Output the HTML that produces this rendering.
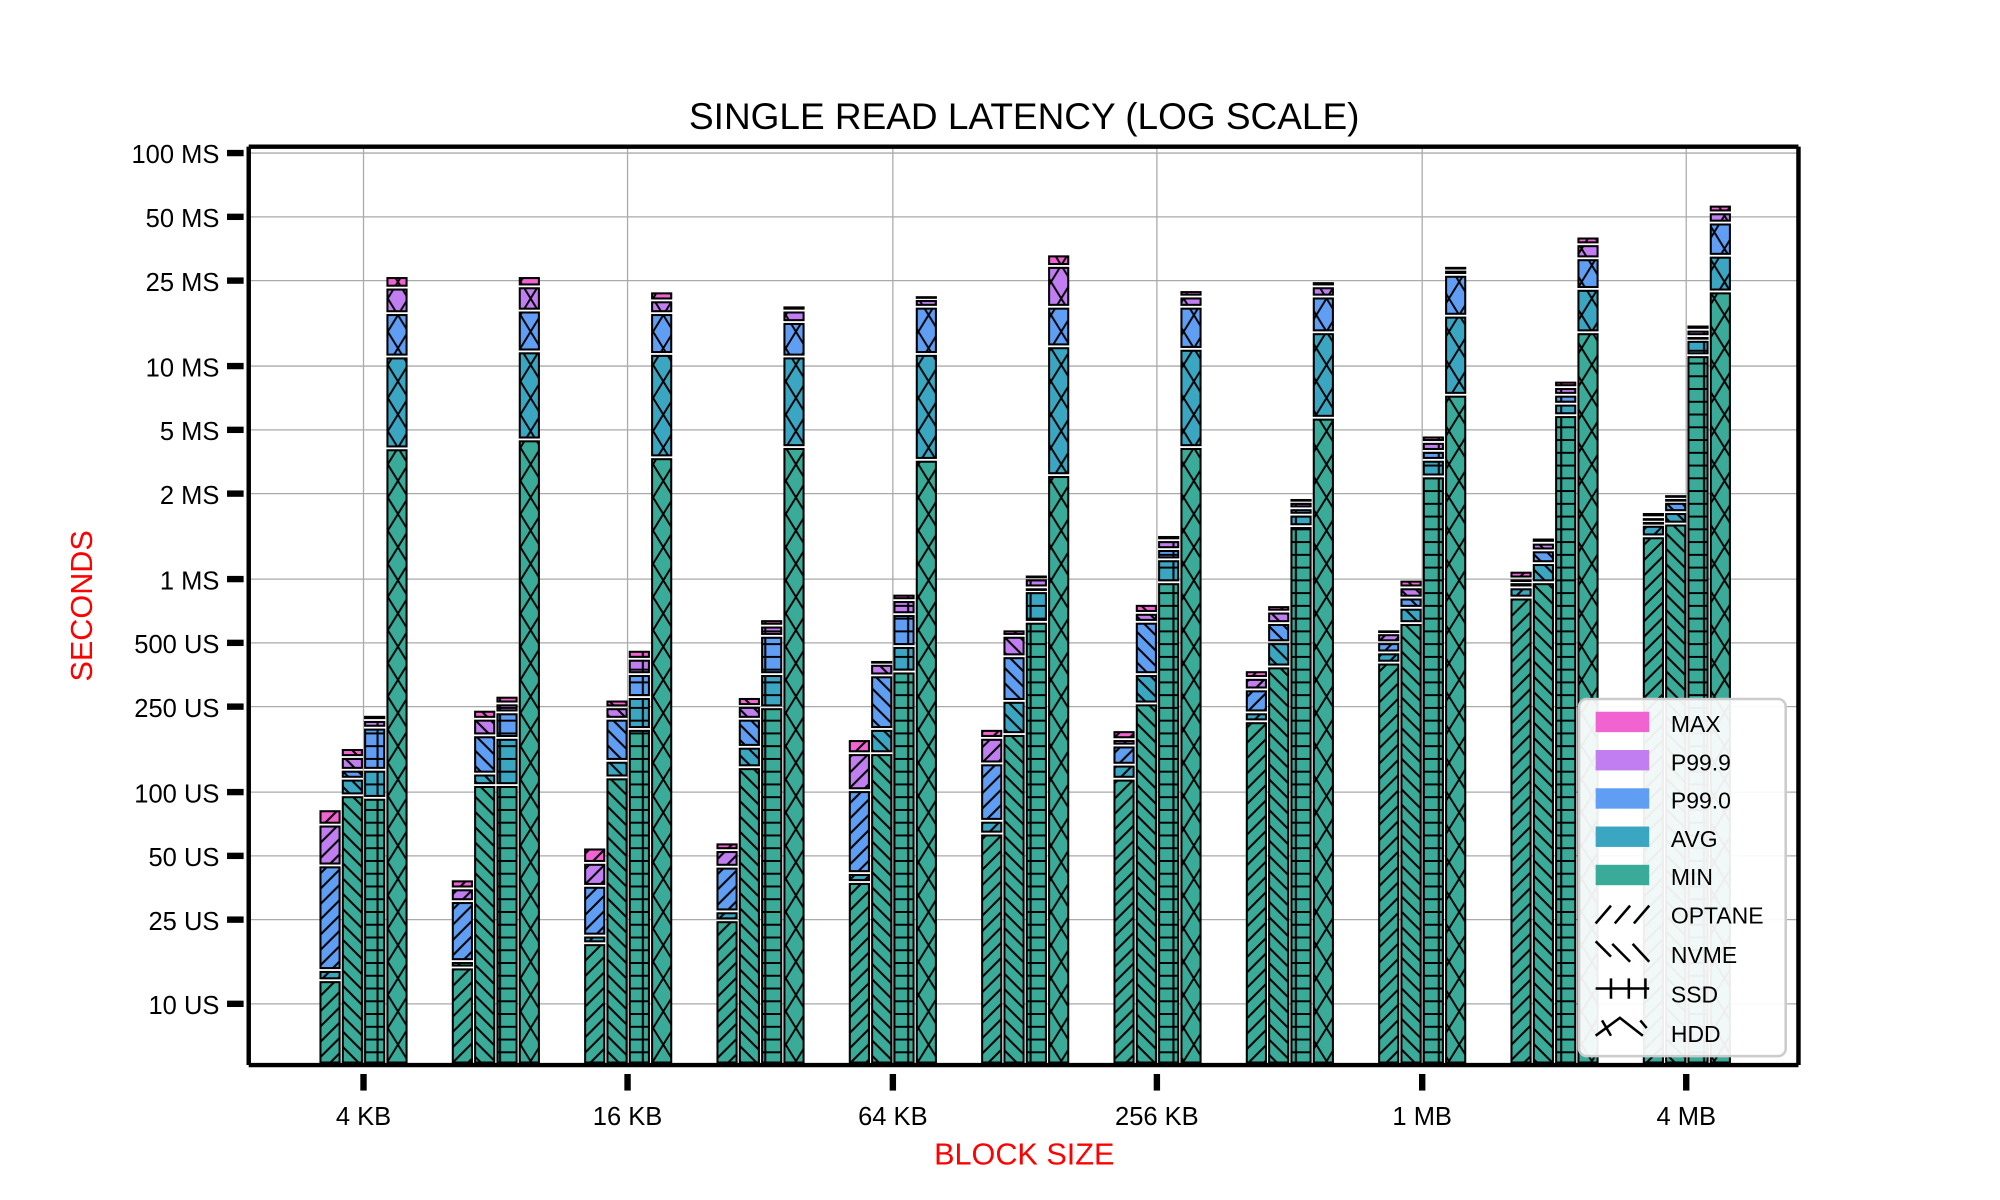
<!DOCTYPE html>
<html><head><meta charset="utf-8">
<style>
html,body{margin:0;padding:0;background:#fff;}
svg{display:block;}
text{font-family:"Liberation Sans",sans-serif;}
</style></head>
<body>
<svg id="s" width="2000" height="1200" viewBox="0 0 1568 940.8" preserveAspectRatio="none" xmlns="http://www.w3.org/2000/svg">
<defs>
<pattern id="p0" patternUnits="userSpaceOnUse" width="12" height="12"><path d="M-3,15 L15,-3 M-3,3 L3,-3 M9,15 L15,9" stroke="#000" stroke-width="1.6"/></pattern>
<pattern id="p1" patternUnits="userSpaceOnUse" width="12" height="12"><path d="M-3,-3 L15,15 M-3,9 L3,15 M9,-3 L15,3" stroke="#000" stroke-width="1.6"/></pattern>
<pattern id="p2" patternUnits="userSpaceOnUse" width="16" height="10"><path d="M0,5 H16 M8,0 V10" stroke="#000" stroke-width="1.6"/></pattern>
<pattern id="p3" patternUnits="userSpaceOnUse" width="16" height="26"><path d="M0,0 L16,26 M16,0 L0,26" stroke="#000" stroke-width="1.5"/></pattern>
</defs>
<g id="grid" stroke="#aaa" stroke-width="1" fill="none"></g>
<g id="bars"></g>
<g id="axes"></g>
<text x="803" y="101" font-size="29" text-anchor="middle" fill="#000">SINGLE READ LATENCY (LOG SCALE)</text>
<text x="803" y="913" font-size="24" text-anchor="middle" fill="#f00">BLOCK SIZE</text>
<text transform="translate(72,475) rotate(-90)" font-size="24" text-anchor="middle" fill="#f00">SECONDS</text>
<g id="legend"></g>
</svg>
<script>
const NS="http://www.w3.org/2000/svg";
function el(p,t,a,txt){const e=document.createElementNS(NS,t);for(const k in a)e.setAttribute(k,a[k]);if(txt!==undefined)e.textContent=txt;document.getElementById(p).appendChild(e);return e;}
const L=195,R=1410,T=115,B=835;
const yt=[["100 MS",120],["50 MS",170],["25 MS",220],["10 MS",287],["5 MS",337],["2 MS",387],["1 MS",454],["500 US",504],["250 US",554],["100 US",621],["50 US",671],["25 US",721],["10 US",787]];
const xt=[["4 KB",285],["16 KB",492],["64 KB",700],["256 KB",907],["1 MB",1115],["4 MB",1322]];
yt.forEach(([t,y])=>{el("grid","line",{x1:L,x2:R,y1:y,y2:y});
 el("axes","rect",{x:178,y:y-2.5,width:13,height:5,fill:"#000"});
 el("axes","text",{x:172,y:y+8,"font-size":20,"text-anchor":"end"},t);});
xt.forEach(([t,x])=>{el("grid","line",{x1:x,x2:x,y1:T,y2:B});
 el("axes","rect",{x:x-2.5,y:842,width:5,height:13,fill:"#000"});
 el("axes","text",{x:x,y:882,"font-size":20,"text-anchor":"middle"},t);});
el("axes","path",{d:`M${L},${T} L${R},${T} M${L},${B} L${R},${B} M${L},${T} L${L},${B} M${R},${T} L${R},${B}`,stroke:"#000","stroke-width":3.5,fill:"none"});
const col=["#3aab99","#3ba6c2","#5f9ef2","#c17ef0","#f263d2"];
const D=[
[[770,762,680,648,636],[625,612,605,595,588],[627,605,572,566,562],[353,281,247,227,218]],
[[760,755,708,698,691],[617,608,578,565,558],[617,580,560,553,547],[346,277,245,226,218]],
[[741,735,696,678,666],[611,598,565,556,550],[573,548,530,518,511],[360,279,247,237,230]],
[[723,716,681,668,662],[603,587,565,555,548],[556,530,500,492,487],[352,281,254,245,241]],
[[693,686,621,592,581],[592,573,531,522,519],[528,508,483,472,467],[362,279,242,236,233]],
[[655,645,600,580,573],[577,551,516,500,495],[489,465,462,455,452],[374,273,242,210,201]],
[[612,601,586,581,574],[553,530,489,482,475],[458,440,432,425,421],[352,275,242,234,229]],
[[567,560,542,533,527],[524,505,490,481,476],[414,405,400,395,392],[329,262,234,226,222]],
[[521,513,505,498,495],[490,478,470,462,456],[375,362,355,348,343],[311,249,217,213,210]],
[[470,462,458,455,449],[458,443,433,427,423],[327,318,311,305,300],[262,228,204,193,187]],
[[422,413,410,407,403],[412,403,395,392,389],[280,268,265,260,256],[230,202,176,168,162]]];
const off=[-26.25,-8.75,8.75,26.25],W=15;
D.forEach((g,i)=>{const c=285+i*103.75;
 g.forEach((v,j)=>{const x=c+off[j]-W/2;let bot=B-2;
  for(let k=0;k<5;k++){const top=v[k];if(bot-top<0.5){bot=top;continue;}
   const h=bot-top-(k==0?0:2);const yy=top;
   el("bars","rect",{x:x,y:yy,width:W,height:Math.max(h,0.5),fill:col[k]});
   el("bars","rect",{x:x,y:yy,width:W,height:Math.max(h,0.5),fill:`url(#p${j})`,stroke:"#000","stroke-width":1.6});
   bot=top-1;}
 });});
el("legend","rect",{x:1238,y:548,width:162,height:280,rx:6,fill:"#fff","fill-opacity":0.93,stroke:"#ccc","stroke-width":2});
const ln=["MAX","P99.9","P99.0","AVG","MIN"],lc=["#f263d2","#c17ef0","#5f9ef2","#3ba6c2","#3aab99"];
for(let k=0;k<5;k++){const y=558+k*30;el("legend","rect",{x:1251,y:y,width:42,height:16,fill:lc[k]});
 el("legend","text",{x:1310,y:y+16,"font-size":18},ln[k]);}
const hn=["OPTANE","NVME","SSD","HDD"];
for(let j=0;j<4;j++){const y=706+j*31;
 let d=j==0?"M1251,724 L1263,710 M1266,724 L1278,710 M1281,724 L1293,710":j==1?"M1251,738 L1263,750 M1264,740 L1278,754 M1280,740 L1293,754":j==2?"M1251,775 H1293 M1263,767 V783 M1277,767 V783 M1290,767 V783":"M1251,812 L1270,798 L1288,812 M1256,800 L1263,812 M1286,800 L1291,806";
 el("legend","path",{d:d,stroke:"#000","stroke-width":2,fill:"none"});
 el("legend","text",{x:1310,y:y+18,"font-size":18},hn[j]);}
</script>
</body></html>
